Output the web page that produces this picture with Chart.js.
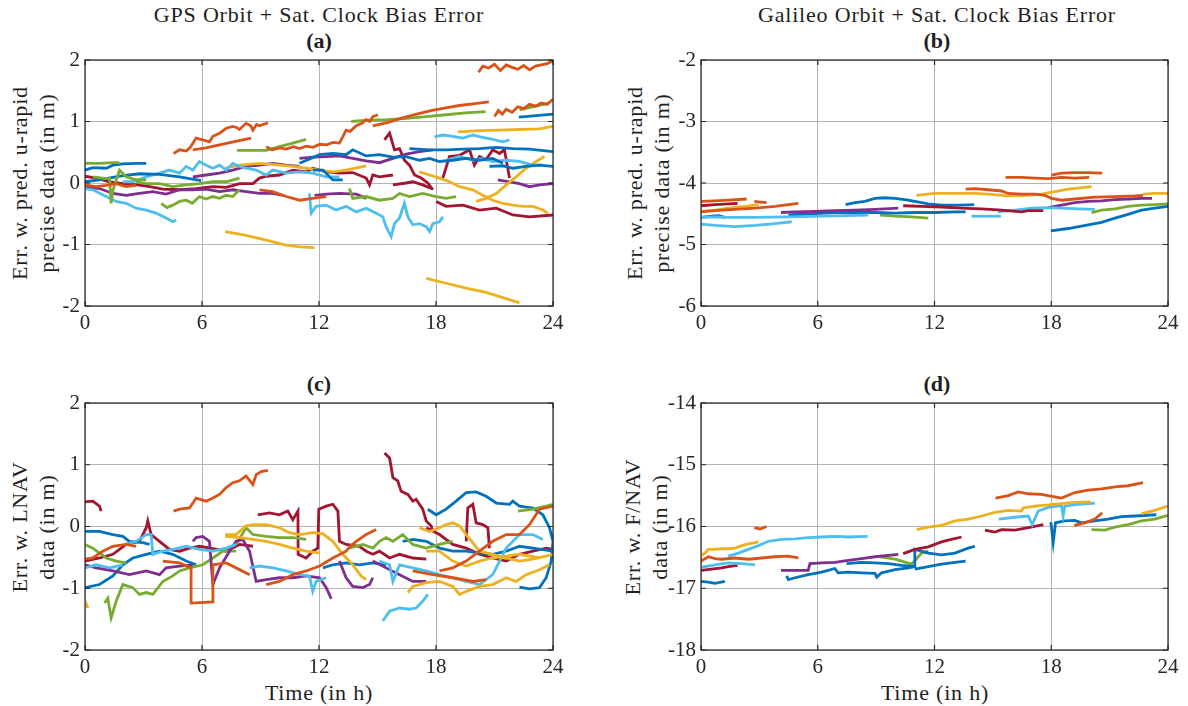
<!DOCTYPE html>
<html>
<head>
<meta charset="utf-8">
<script src="https://cdn.jsdelivr.net/npm/chart.js@4.4.1/dist/chart.umd.min.js"></script>
<style>
    body { margin: 0; width: 1188px; height: 706px; background: #fff; position: relative; overflow: hidden; font-family: "Liberation Serif", serif; color: #1f1f1f; }
    canvas { position: absolute; }
    .t { position: absolute; font-size: 22px; line-height: 22px; letter-spacing: 0.8px; text-align: center; white-space: nowrap; }
    .b { font-weight: bold; letter-spacing: 0; }
    .yl { position: absolute; width: 246px; font-size: 22px; line-height: 27px; letter-spacing: 0.8px; text-align: center; white-space: nowrap; transform: rotate(-90deg); }
</style>
</head>
<body>
<div class="t" style="left:19px;top:4px;width:600px">GPS Orbit + Sat. Clock Bias Error</div>
<div class="t" style="left:687px;top:4px;width:500px">Galileo Orbit + Sat. Clock Bias Error</div>
<div class="t b" style="left:269px;top:30px;width:100px">(a)</div>
<div class="t b" style="left:887px;top:30px;width:100px">(b)</div>
<div class="t b" style="left:269px;top:373px;width:100px">(c)</div>
<div class="t b" style="left:887px;top:373px;width:100px">(d)</div>
<div class="t" style="left:219px;top:682px;width:200px">Time (in h)</div>
<div class="t" style="left:835px;top:682px;width:200px">Time (in h)</div>
<div class="yl" style="left:-90px;top:156px">Err. w. pred. u-rapid<br>precise data (in m)</div>
<div class="yl" style="left:525px;top:156px">Err. w. pred. u-rapid<br>precise data (in m)</div>
<div class="yl" style="left:-90px;top:500px">Err. w. LNAV<br>data (in m)</div>
<div class="yl" style="left:523px;top:500px">Err. w. F/NAV<br>data (in m)</div>

<canvas id="chartA" width="594" height="353" style="left:0;top:0"></canvas>
<canvas id="chartB" width="594" height="353" style="left:594px;top:0"></canvas>
<canvas id="chartC" width="594" height="353" style="left:0;top:353px"></canvas>
<canvas id="chartD" width="594" height="353" style="left:594px;top:353px"></canvas>

<script>
// x ticks (hours) shared by all four panels
const hourTicks = [0, 6, 12, 18, 24];
const gpsErrTicks = [-2, -1, 0, 1, 2];
const galRapidTicks = [-6, -5, -4, -3, -2];
const galNavTicks = [-18, -17, -16, -15, -14];

// each satellite pass is a list of [hour, error in m]
// (a) GPS, predicted ultra-rapid vs precise
const rapidGpsOrange = [
    [[20.18,1.80],[20.4,1.90],[20.7,1.87],[21.0,1.93],[21.3,1.83],[21.6,1.92],[21.9,1.88],[22.2,1.85],[22.5,1.91],[22.8,1.84],[23.1,1.90],[23.4,1.92],[23.7,1.94],[24,1.99]],
    [[14.76,0.93],[15.5,0.98],[16.2,1.05],[17.0,1.12],[17.8,1.18],[18.5,1.22],[19.2,1.26],[20.0,1.29],[20.71,1.32]],
    [[21.0,1.08],[21.2,1.18],[21.4,1.12],[21.6,1.20],[21.9,1.15],[22.2,1.24],[22.5,1.21],[22.8,1.28],[23.1,1.25],[23.4,1.30],[23.7,1.28],[24,1.36]],
    [[9.29,0.59],[9.6,0.54],[10.0,0.57],[10.3,0.55],[10.7,0.59],[11.0,0.56],[11.34,0.60],[11.7,0.58],[12.03,0.63],[12.4,0.62],[12.71,0.66],[13.05,0.65],[13.22,0.75],[13.39,0.86],[13.6,0.84],[13.91,0.93],[14.2,0.97],[14.42,1.03],[14.6,1.00],[14.76,1.08],[15.02,1.11]],
    [[4.54,0.48],[4.85,0.54],[5.19,0.52],[5.4,0.58],[5.7,0.73],[6.04,0.70],[6.38,0.67],[6.56,0.76],[6.9,0.81],[7.24,0.89],[7.58,0.92],[7.8,0.90],[7.92,0.87],[8.26,0.97],[8.5,0.93],[8.61,0.86],[8.8,0.95],[8.95,0.93],[9.38,0.98]],
    [[5.53,0.54],[6.2,0.57],[6.9,0.62],[7.6,0.67],[8.52,0.73]],
    [[8.95,-0.11],[9.63,-0.14],[10.32,-0.22],[11.0,-0.28],[11.68,-0.25],[12.37,-0.22]],
    [[0,-0.03],[0.57,-0.06],[1.09,-0.04],[1.6,-0.01],[2.11,-0.06],[2.62,-0.04]]
];
const rapidGpsGreen = [
    [[22.28,1.19],[23.0,1.24],[23.82,1.30]],
    [[13.65,1.00],[14.5,1.02],[15.5,1.03],[16.5,1.05],[17.5,1.08],[18.5,1.11],[19.5,1.14],[20.54,1.16]],
    [[7.79,0.53],[8.6,0.53],[9.29,0.53],[9.97,0.59],[10.66,0.65],[11.34,0.71]],
    [[0,0.32],[0.74,0.32],[1.43,0.33],[1.77,0.33]],
    [[0.4,0.10],[1.09,0.07],[1.26,0.08],[1.34,-0.33],[1.43,-0.12],[1.77,0.21],[2.11,0.10],[2.62,0.05],[3.14,0.05]],
    [[3.91,-0.33],[4.2,-0.40],[4.5,-0.36],[4.85,-0.30],[5.19,-0.28],[5.5,-0.33],[5.87,-0.22],[6.2,-0.26],[6.56,-0.22],[6.9,-0.25],[7.24,-0.20],[7.58,-0.22],[7.92,-0.11]],
    [[13.56,-0.09],[13.73,-0.25],[14.42,-0.22],[15.10,-0.28],[15.79,-0.25],[16.13,-0.17],[16.64,-0.22],[17.32,-0.17],[18.01,-0.22],[18.52,-0.25],[19.03,-0.22]],
    [[2.62,0.02],[3.14,-0.01],[3.82,-0.01],[4.50,-0.06],[5.19,-0.03],[5.87,-0.01],[6.56,0.02],[7.24,0.02],[7.92,0.08]]
];
const rapidGpsBlue = [
    [[0,0.21],[0.40,0.25],[1.09,0.24],[1.43,0.29],[1.94,0.31],[2.62,0.32],[3.14,0.32]],
    [[0,0.02],[0.74,0.05],[1.77,0.11],[2.79,0.15],[3.82,0.14],[4.85,0.10],[5.96,0.04]],
    [[11.0,0.32],[12.03,0.46],[12.71,0.48],[13.39,0.46],[13.73,0.54],[14.42,0.44],[15.10,0.46],[15.79,0.42],[16.47,0.43],[17.15,0.37],[17.67,0.40],[18.18,0.35],[18.86,0.37],[19.55,0.40],[20.23,0.37],[20.91,0.40],[21.43,0.32]],
    [[16.64,0.56],[17.67,0.54],[18.52,0.54],[19.38,0.55],[20.23,0.56],[21.09,0.58],[21.94,0.56],[22.79,0.55],[24,0.51]],
    [[20.74,0.27],[21.43,0.28],[21.94,0.24],[22.62,0.27],[23.31,0.29],[24,0.27]],
    [[11.68,0.21],[12.2,0.21],[12.71,0.05],[13.22,0.05]],
    [[22.25,1.07],[23.0,1.09],[24,1.12]]
];
const rapidGpsCyan = [
    [[0,-0.09],[0.4,-0.11],[1.09,-0.22],[1.6,-0.30],[2.11,-0.33],[2.62,-0.41],[3.14,-0.44],[3.65,-0.49],[4.16,-0.57],[4.5,-0.63],[4.68,-0.60]],
    [[1.94,0.02],[2.45,0.02],[3.14,0.10],[3.82,0.16],[4.33,0.21],[4.85,0.16],[5.19,0.27],[5.53,0.21],[5.87,0.35],[6.21,0.29],[6.56,0.24],[6.90,0.29],[7.24,0.21],[7.58,0.32],[7.92,0.27],[8.26,0.24],[8.78,0.21],[9.29,0.13],[9.63,0.21],[10.32,0.16],[11.0,0.18],[11.68,0.16],[12.37,0.10],[13.05,0.10]],
    [[11.51,-0.17],[11.6,-0.49],[11.85,-0.38],[12.37,-0.36],[12.88,-0.44],[13.39,-0.38],[13.91,-0.47],[14.42,-0.41],[14.93,-0.49],[15.27,-0.55],[15.44,-0.71],[15.70,-0.87],[15.87,-0.66],[16.13,-0.57],[16.38,-0.33],[16.56,-0.55],[16.81,-0.68],[17.15,-0.66],[17.50,-0.71],[17.67,-0.79],[17.84,-0.66],[18.18,-0.63],[18.35,-0.55]],
    [[17.92,0.75],[18.35,0.78],[18.86,0.76],[19.38,0.73],[19.89,0.78],[20.40,0.74],[20.91,0.71],[21.43,0.67],[21.77,0.70]],
    [[18.52,0.37],[19.21,0.43],[19.89,0.37],[20.40,0.40],[20.91,0.35],[21.60,0.37],[22.28,0.35],[22.97,0.29],[23.48,0.29]]
];
const rapidGpsYellow = [
    [[7.19,-0.79],[8.26,-0.85],[9.29,-0.93],[10.32,-1.01],[11.0,-1.04],[11.77,-1.05]],
    [[17.50,-1.55],[18.52,-1.63],[19.55,-1.71],[20.57,-1.78],[21.60,-1.88],[22.28,-1.95]],
    [[7.19,0.24],[7.92,0.29],[8.95,0.32],[9.97,0.29],[10.66,0.27],[11.34,0.24],[12.03,0.21],[12.71,0.18],[13.39,0.21],[14.42,0.28]],
    [[19.12,0.83],[20.23,0.85],[21.26,0.86],[22.28,0.87],[23.31,0.88],[24,0.92]],
    [[17.15,0.18],[17.67,0.13],[18.18,0.08],[18.69,0.02],[19.21,-0.06],[19.89,-0.11],[20.40,-0.20],[20.91,-0.28],[21.43,-0.33],[21.94,-0.36],[22.45,-0.38],[22.97,-0.38],[23.48,-0.44],[23.74,-0.49]],
    [[20.06,-0.30],[20.57,-0.25],[21.09,-0.17],[21.60,-0.03],[22.11,0.10],[22.62,0.24],[23.14,0.35],[23.56,0.43]]
];
const rapidGpsPurple = [
    [[11.0,0.40],[11.68,0.42],[12.37,0.43],[13.05,0.44],[13.73,0.40],[14.42,0.36],[15.10,0.33],[15.79,0.40],[16.47,0.47],[17.15,0.51],[17.84,0.54]],
    [[0,-0.06],[0.74,-0.09],[1.43,-0.17],[2.11,-0.20],[2.79,-0.17],[3.48,-0.14],[4.16,-0.18],[4.85,-0.11],[5.53,-0.11],[6.21,-0.10],[6.90,-0.14],[7.58,-0.11],[8.26,-0.14],[8.95,-0.17],[9.63,-0.17],[10.15,-0.20]],
    [[5.53,0.10],[6.21,0.13],[6.90,0.16],[7.58,0.21],[8.26,0.27],[8.95,0.29],[9.63,0.32],[10.32,0.29],[11.0,0.27]],
    [[11.77,-0.20],[12.37,-0.18],[13.05,-0.17],[13.91,-0.18],[14.42,-0.25]],
    [[21.17,0.05],[21.77,0.02],[22.28,-0.01],[22.79,-0.06],[23.31,-0.03],[24,-0.01]]
];
const rapidGpsRed = [
    [[15.36,0.70],[15.62,0.81],[15.87,0.54],[16.13,0.56],[16.38,0.37],[16.64,0.29],[16.90,0.13],[17.24,0.08],[17.58,0.0],[17.84,-0.11]],
    [[15.79,-0.03],[16.47,0.0],[16.81,0.02],[17.32,-0.03],[17.75,-0.09]],
    [[18.01,-0.30],[18.52,-0.38],[19.38,-0.36],[20.23,-0.44],[21.09,-0.41],[21.94,-0.52],[22.79,-0.55],[24,-0.52]],
    [[18.35,0.08],[18.69,0.43],[19.21,0.45],[19.72,0.54],[19.97,0.29],[20.23,0.43],[20.57,0.38],[20.91,0.54],[21.26,0.48],[21.51,0.54],[21.77,0.08]],
    [[0,0.11],[0.57,0.08],[1.26,0.02],[1.94,-0.01],[2.71,-0.03],[3.31,-0.06],[3.99,-0.10],[4.85,-0.11],[5.70,-0.09],[6.56,-0.06],[7.24,-0.07],[7.92,-0.01],[8.61,-0.01],[8.95,0.08],[9.29,0.11],[9.97,0.13],[10.66,0.21],[11.34,0.18],[11.68,0.24],[12.37,0.18],[13.05,0.16],[13.73,0.17],[14.42,0.08],[14.59,-0.03],[14.76,0.13],[15.10,0.10],[15.79,0.13]]
];

// (b) Galileo, predicted ultra-rapid vs precise
const rapidGalOrange = [
    [[0,-4.30],[0.72,-4.29],[1.40,-4.28],[2.35,-4.26]],
    [[2.74,-4.30],[3.03,-4.31],[3.37,-4.32]],
    [[0,-4.47],[0.72,-4.45],[1.74,-4.43],[2.78,-4.41],[3.80,-4.38],[5.0,-4.33]],
    [[13.60,-4.10],[14.08,-4.09],[14.76,-4.11],[15.45,-4.13],[15.79,-4.17],[16.47,-4.18],[17.16,-4.18],[17.67,-4.20],[18.01,-4.25],[18.53,-4.28],[19.21,-4.26],[20.24,-4.23],[21.27,-4.22],[22.29,-4.21],[22.72,-4.20]],
    [[15.65,-3.91],[16.47,-3.91],[17.16,-3.92],[17.84,-3.93],[18.53,-3.91],[19.21,-3.92],[19.95,-3.91]],
    [[18.01,-3.87],[18.53,-3.84],[19.21,-3.83],[19.90,-3.83],[20.62,-3.84]]
];
const rapidGalRed = [
    [[0,-4.37],[0.72,-4.35],[1.88,-4.33]],
    [[10.39,-4.37],[11.34,-4.38],[12.36,-4.39],[13.39,-4.41],[14.42,-4.42],[15.45,-4.44],[16.47,-4.47],[16.82,-4.45],[17.59,-4.45]]
];
const rapidGalYellow = [
    [[0,-4.46],[0.72,-4.44],[1.40,-4.41],[2.26,-4.38],[2.95,-4.35]],
    [[11.08,-4.20],[12.02,-4.17],[13.05,-4.17],[14.08,-4.17],[14.76,-4.18],[15.79,-4.21],[16.82,-4.20],[17.50,-4.18],[18.18,-4.14],[18.87,-4.10],[20.07,-4.06]],
    [[22.72,-4.18],[23.32,-4.17],[24,-4.17]]
];
const rapidGalCyan = [
    [[0,-4.56],[0.72,-4.55],[1.23,-4.56],[2.78,-4.56],[4.49,-4.55],[6.20,-4.54],[7.40,-4.53],[8.60,-4.52]],
    [[0,-4.67],[0.72,-4.69],[1.74,-4.71],[2.78,-4.69],[3.80,-4.66],[4.66,-4.63]],
    [[13.90,-4.54],[14.59,-4.54],[15.41,-4.54]],
    [[15.27,-4.47],[16.13,-4.44],[16.99,-4.41],[17.84,-4.40],[18.53,-4.41],[19.38,-4.42],[20.24,-4.43]]
];
const rapidGalPurple = [
    [[4.11,-4.48],[4.83,-4.47],[5.86,-4.46],[6.88,-4.45],[7.91,-4.44],[8.94,-4.43],[10.14,-4.41]],
    [[17.84,-4.40],[18.53,-4.36],[19.21,-4.32],[19.90,-4.30],[20.58,-4.29],[21.27,-4.27],[21.95,-4.26],[22.64,-4.25],[23.18,-4.25]]
];
const rapidGalBlue = [
    [[0,-4.56],[0.55,-4.54],[0.9,-4.53],[1.23,-4.56]],
    [[4.49,-4.52],[5.68,-4.50],[6.88,-4.48],[7.91,-4.48],[8.94,-4.48],[9.97,-4.49],[10.99,-4.48],[12.02,-4.48],[13.05,-4.47],[13.60,-4.47]],
    [[7.43,-4.35],[7.91,-4.32],[8.42,-4.30],[8.94,-4.25],[9.45,-4.24],[9.97,-4.25],[10.65,-4.28],[10.99,-4.30],[11.68,-4.34],[12.36,-4.36],[13.39,-4.36],[14.04,-4.35]],
    [[17.98,-4.78],[18.87,-4.74],[19.90,-4.68],[20.58,-4.64],[21.27,-4.57],[21.95,-4.51],[22.64,-4.44],[23.32,-4.41],[24,-4.38]]
];
const rapidGalGreen = [
    [[9.20,-4.52],[9.97,-4.54],[10.82,-4.55],[11.68,-4.57]],
    [[20.07,-4.48],[20.58,-4.44],[21.27,-4.42],[21.95,-4.38],[22.64,-4.36],[23.32,-4.35],[24,-4.34]]
];

// (c) GPS, broadcast LNAV
const lnavRed = [
    [[0,0.40],[0.4,0.41],[0.74,0.33],[0.83,0.25]],
    [[15.36,1.19],[15.62,1.11],[15.79,0.79],[16.04,0.74],[16.21,0.57],[16.56,0.52],[16.81,0.41],[16.98,0.44],[17.32,0.28],[17.50,0.09],[17.75,0.01],[17.84,-0.08]],
    [[8.86,0.19],[9.46,0.22],[9.97,0.19],[10.40,0.25],[10.66,0.11],[10.92,0.25],[10.93,-0.45],[11.34,-0.51],[11.68,-0.40],[11.94,-0.35],[11.99,0.28],[12.37,0.33],[12.71,0.36],[12.97,0.25],[13.05,-0.24],[13.39,-0.29],[14.07,-0.32],[14.42,-0.40],[14.76,-0.45],[15.10,-0.40],[15.62,-0.51],[16.13,-0.45],[16.81,-0.51],[17.50,-0.53]],
    [[19.55,-0.24],[19.63,0.30],[19.89,0.36],[20.06,0.06],[20.40,0.03],[20.66,-0.02],[20.74,-0.35]],
    [[0,-0.56],[0.74,-0.51],[1.43,-0.45],[2.11,-0.29],[2.79,-0.24],[3.14,-0.02],[3.22,0.09],[3.39,-0.13],[3.82,-0.24],[4.33,-0.37],[4.85,-0.40],[5.36,-0.35],[5.87,-0.32],[6.56,-0.36],[7.24,-0.40],[7.92,-0.29],[8.61,-0.32]],
    [[17.50,-0.02],[18.18,-0.13],[18.86,-0.29],[19.55,-0.35],[20.23,-0.45],[20.91,-0.51],[21.60,-0.56],[22.28,-0.45],[22.97,-0.40],[23.65,-0.35],[24,-0.37]]
];
const lnavOrange = [
    [[4.54,0.25],[4.85,0.28],[5.36,0.30],[5.70,0.46],[6.21,0.41],[6.56,0.46],[6.90,0.52],[7.24,0.63],[7.58,0.71],[7.92,0.74],[8.26,0.82],[8.61,0.68],[8.78,0.84],[9.04,0.89],[9.38,0.91]],
    [[0,-0.53],[0.40,-0.51],[0.91,-0.40],[1.43,-0.32],[2.11,-0.29],[2.62,-0.32]],
    [[3.99,-0.56],[4.85,-0.59],[5.44,-0.67],[5.44,-1.24],[6.56,-1.22],[6.56,-0.62],[7.24,-0.59],[7.75,-0.67],[8.44,-0.78]],
    [[9.29,-0.94],[9.97,-0.89],[10.66,-0.78],[11.34,-0.72],[12.03,-0.64],[12.71,-0.51],[13.39,-0.40],[13.60,-0.32],[13.91,-0.24],[14.42,-0.13],[14.93,-0.05]],
    [[18.18,-0.72],[18.86,-0.67],[19.55,-0.56],[20.23,-0.40],[20.91,-0.24],[21.60,-0.13],[22.28,-0.13],[22.79,0.03],[23.31,0.28],[24,0.33]],
    [[16.81,-0.72],[17.84,-0.78],[18.86,-0.83],[19.89,-0.89],[20.57,-0.86]]
];
const lnavBlue = [
    [[17.58,0.28],[18.01,0.19],[18.52,0.28],[19.03,0.41],[19.55,0.55],[20.06,0.56],[20.57,0.49],[21.09,0.38],[21.77,0.36],[21.94,0.41],[22.28,0.33],[22.97,0.30],[23.48,0.19],[23.82,-0.02],[24,-0.24],[23.91,-0.56],[23.65,-0.83],[23.31,-0.99],[22.79,-1.01],[22.28,-0.98]],
    [[0,-0.08],[0.74,-0.08],[1.43,-0.13],[1.94,-0.16],[2.28,-0.24],[2.96,-0.26],[3.31,-0.29]],
    [[0,-0.99],[0.74,-0.94],[1.43,-0.80],[1.94,-0.62],[2.45,-0.51],[3.14,-0.45],[3.82,-0.40],[4.50,-0.45],[5.19,-0.56],[5.70,-0.62]],
    [[16.29,-0.24],[16.81,-0.21],[17.50,-0.24],[18.18,-0.35],[18.86,-0.40],[19.55,-0.40],[20.23,-0.43],[20.91,-0.45],[21.60,-0.40],[22.28,-0.32],[22.97,-0.35],[24,-0.40]],
    [[12.2,-0.67],[12.71,-0.62],[13.39,-0.59],[14.07,-0.62],[14.76,-0.59],[15.44,-0.62]]
];
const lnavYellow = [
    [[7.19,-0.13],[7.75,-0.13],[8.26,0.01],[8.61,0.03],[9.29,0.03],[9.97,-0.02],[10.49,-0.10],[11.0,-0.13],[11.68,-0.10],[12.20,-0.12],[12.71,-0.24],[13.22,-0.45],[13.73,-0.62],[14.16,-0.80],[14.42,-0.86]],
    [[7.19,-0.16],[7.92,-0.18],[8.61,-0.21],[9.29,-0.24],[9.97,-0.29],[10.66,-0.35],[11.34,-0.40],[12.03,-0.43]],
    [[17.15,-0.02],[17.67,-0.08],[18.18,-0.02],[18.52,0.03],[18.86,0.06],[19.21,0.01],[19.55,-0.13],[20.23,-0.40],[20.91,-0.45],[21.60,-0.51],[22.28,-0.56],[22.97,-0.53],[23.65,-0.48],[24,-0.45]],
    [[16.56,-1.07],[16.81,-0.97],[17.50,-0.91],[18.18,-0.89],[18.86,-0.97],[19.21,-1.10],[19.55,-1.05],[20.23,-0.97],[20.91,-0.94],[21.60,-0.83],[22.11,-0.89],[22.62,-0.78],[23.31,-0.70],[23.82,-0.62]],
    [[0,-1.21],[0.15,-1.32]],
    [[17.50,-0.40],[18.18,-0.40],[18.86,-0.56],[19.55,-0.64],[20.23,-0.56],[20.91,-0.51],[21.60,-0.48],[22.28,-0.45],[23.31,-0.51]]
];
const lnavCyan = [
    [[15.27,-1.53],[15.62,-1.37],[16.13,-1.32],[16.64,-1.34],[16.98,-1.32],[17.32,-1.21],[17.58,-1.10]],
    [[2.11,-0.29],[2.62,-0.24],[3.14,-0.13],[3.39,-0.13],[3.48,-0.45],[3.99,-0.40],[4.50,-0.37],[5.19,-0.32],[5.87,-0.37],[6.56,-0.40],[7.24,-0.35],[7.75,-0.29]],
    [[8.44,-0.67],[8.95,-0.64],[9.63,-0.67],[10.32,-0.72],[11.0,-0.78],[11.51,-0.80],[11.68,-1.05],[11.85,-0.89],[12.37,-0.83]],
    [[15.10,-0.56],[15.62,-0.62],[15.79,-0.89],[16.13,-0.62],[16.81,-0.67],[17.50,-0.72],[18.18,-0.78],[18.86,-0.83],[19.55,-0.89],[20.23,-0.94],[20.91,-0.78],[21.60,-0.35],[22.28,-0.13],[22.97,-0.13],[23.48,-0.21]],
    [[0,-0.67],[0.57,-0.62],[1.26,-0.67],[1.94,-0.62]]
];
const lnavPurple = [
    [[5.53,-0.24],[5.70,-0.18],[6.04,-0.16],[6.38,-0.24],[6.56,-0.94],[6.90,-0.67],[7.41,-0.40],[7.75,-0.24],[8.09,-0.21],[8.44,-0.40],[8.70,-0.78],[8.78,-0.89],[9.29,-0.86],[9.97,-0.83],[10.66,-0.83],[11.34,-0.80],[12.03,-0.83],[12.37,-0.99],[12.63,-1.17]],
    [[13.05,-0.56],[13.39,-0.83],[13.73,-0.97],[14.25,-0.99],[14.59,-0.94],[14.76,-0.83]],
    [[0,-0.62],[0.57,-0.67],[1.43,-0.72],[2.28,-0.78],[3.14,-0.72],[3.82,-0.78],[4.16,-0.67],[4.85,-0.64],[5.53,-0.62]],
    [[14.76,-0.56],[15.44,-0.67],[16.13,-0.78],[16.81,-0.89],[17.50,-0.89]]
];
const lnavGreen = [
    [[1.0,-1.24],[1.17,-1.16],[1.34,-1.48],[1.60,-1.21],[1.94,-0.94],[2.45,-0.99],[2.79,-1.10],[3.14,-1.07],[3.48,-1.10],[3.99,-0.89],[4.50,-0.80],[4.85,-0.72],[5.36,-0.67],[6.04,-0.62],[6.56,-0.51],[7.07,-0.40],[7.75,-0.40]],
    [[0,-0.29],[0.40,-0.35],[1.09,-0.51],[1.60,-0.56],[2.11,-0.59]],
    [[7.75,-0.29],[8.26,-0.02],[8.61,-0.13],[9.29,-0.16],[9.97,-0.18],[10.66,-0.18],[11.34,-0.21]],
    [[13.56,-0.35],[14.25,-0.29],[14.76,-0.35],[15.10,-0.24],[15.44,-0.18],[15.79,-0.24],[16.29,-0.13],[16.81,-0.29],[17.50,-0.35],[18.18,-0.29],[18.86,-0.24]],
    [[22.20,0.25],[22.97,0.28],[23.65,0.33],[24,0.36]]
];

// (d) Galileo, broadcast F/NAV
const fnavOrange = [
    [[2.74,-16.02],[3.03,-16.04],[3.37,-16.00]],
    [[0,-16.56],[0.38,-16.49],[0.72,-16.52],[1.06,-16.53],[1.74,-16.51],[2.43,-16.53],[3.12,-16.51],[3.80,-16.49],[4.49,-16.48],[5.0,-16.51]],
    [[15.14,-15.54],[15.79,-15.50],[16.30,-15.44],[16.82,-15.47],[17.50,-15.48],[18.18,-15.52],[18.53,-15.54],[19.21,-15.45],[19.90,-15.41],[20.58,-15.39],[21.27,-15.36],[21.95,-15.34],[22.72,-15.29]],
    [[19.18,-15.98],[19.73,-15.94],[20.24,-15.88],[20.62,-15.78]]
];
const fnavYellow = [
    [[0,-16.47],[0.21,-16.43],[0.38,-16.37],[0.72,-16.37],[1.06,-16.36],[1.40,-16.36],[1.74,-16.35],[2.09,-16.31],[2.43,-16.28],[2.95,-16.25]],
    [[11.08,-16.05],[11.68,-16.01],[12.36,-15.98],[13.05,-15.91],[13.73,-15.88],[14.42,-15.83],[15.10,-15.77],[15.79,-15.74],[16.47,-15.75],[16.56,-15.70],[17.16,-15.67],[17.84,-15.65],[18.53,-15.63],[19.21,-15.61],[20.03,-15.60]],
    [[22.64,-15.79],[23.32,-15.74],[24,-15.67]]
];
const fnavCyan = [
    [[1.40,-16.48],[1.92,-16.43],[2.43,-16.37],[2.95,-16.31],[3.46,-16.24],[4.14,-16.21],[4.83,-16.20],[5.51,-16.18],[6.20,-16.17],[6.88,-16.16],[7.57,-16.17],[8.56,-16.16]],
    [[0,-16.66],[0.72,-16.62],[1.40,-16.59],[2.09,-16.60],[2.78,-16.62]],
    [[15.31,-15.88],[16.13,-15.85],[16.82,-15.83],[17.02,-15.97],[17.33,-15.75],[17.84,-15.69],[18.53,-15.66],[18.61,-15.83],[18.70,-15.67],[19.38,-15.64],[20.24,-15.62]]
];
const fnavRed = [
    [[0,-16.71],[0.55,-16.69],[1.06,-16.67],[1.40,-16.65],[1.88,-16.63]],
    [[10.39,-16.44],[10.99,-16.37],[11.68,-16.33],[12.36,-16.25],[12.71,-16.22],[13.39,-16.17]],
    [[14.59,-16.06],[15.10,-16.09],[15.45,-16.05],[16.13,-16.06],[16.82,-16.02],[17.59,-15.97]]
];
const fnavPurple = [
    [[4.11,-16.71],[4.83,-16.71],[5.51,-16.71],[5.60,-16.60],[6.20,-16.59],[6.88,-16.58],[7.57,-16.55],[8.25,-16.52],[8.94,-16.49],[10.14,-16.45]]
];
const fnavBlue = [
    [[0,-16.89],[0.38,-16.90],[0.72,-16.92],[1.23,-16.89]],
    [[4.40,-16.80],[4.49,-16.86],[4.83,-16.83],[5.51,-16.78],[6.20,-16.74],[6.88,-16.68],[7.05,-16.75],[7.57,-16.74],[8.25,-16.75],[8.94,-16.76],[9.03,-16.82],[9.28,-16.75],[9.97,-16.70],[10.65,-16.67],[10.99,-16.65]],
    [[7.48,-16.60],[8.25,-16.58],[8.94,-16.59],[9.62,-16.60],[10.31,-16.63],[10.99,-16.65],[10.99,-16.37],[11.68,-16.43],[12.36,-16.46],[13.05,-16.43],[13.73,-16.35],[14.08,-16.32]],
    [[10.99,-16.69],[11.68,-16.65],[12.36,-16.61],[13.05,-16.58],[13.60,-16.56]],
    [[17.98,-15.93],[18.10,-16.26],[18.22,-15.94],[18.70,-15.91],[19.21,-15.90],[19.55,-15.94],[20.24,-15.91],[20.92,-15.88],[21.61,-15.84],[22.29,-15.83],[23.40,-15.81]]
];
const fnavGreen = [
    [[9.20,-16.49],[9.97,-16.53],[10.82,-16.61],[11.34,-16.43],[11.68,-16.40]],
    [[20.07,-16.05],[20.75,-16.06],[21.27,-16.01],[21.95,-15.97],[22.64,-15.91],[23.32,-15.88],[24,-15.82]]
];

const colours = {
    blue: '#0072BD', orange: '#D95319', yellow: '#EDB120', purple: '#7E2F8E',
    green: '#77AC30', cyan: '#4DBEEE', red: '#A2142F'
};
const FONT = '"Liberation Serif", serif';
const INK = '#262626';

function datasetsFrom(groups) {
    const sets = [];
    groups.forEach(([passes, colour]) => {
        passes.forEach(pass => {
            sets.push({
                data: pass.map(([t, e]) => ({ x: t, y: e })),
                borderColor: colours[colour],
                borderWidth: 2.8,
                pointRadius: 0,
                tension: 0,
                fill: false
            });
        });
    });
    return sets;
}

// MATLAB style box with inward tick marks
const boxAndTicks = {
    id: 'boxAndTicks',
    afterDraw(chart) {
        const { ctx, chartArea: { left, right, top, bottom }, scales: { x, y } } = chart;
        ctx.save();
        ctx.strokeStyle = INK;
        ctx.lineWidth = 1.2;
        ctx.strokeRect(left, top, right - left, bottom - top);
        ctx.beginPath();
        x.ticks.forEach(tk => {
            const px = x.getPixelForValue(tk.value);
            ctx.moveTo(px, bottom); ctx.lineTo(px, bottom - 5);
            ctx.moveTo(px, top); ctx.lineTo(px, top + 5);
        });
        y.ticks.forEach(tk => {
            const py = y.getPixelForValue(tk.value);
            ctx.moveTo(left, py); ctx.lineTo(left + 5, py);
            ctx.moveTo(right, py); ctx.lineTo(right - 5, py);
        });
        ctx.stroke();
        ctx.restore();
    }
};

function makePanel(id, groups, yTicks, pad, yWidth, xHeight) {
    new Chart(document.getElementById(id), {
        type: 'line',
        data: { datasets: datasetsFrom(groups) },
        options: {
            responsive: false,
            animation: false,
            devicePixelRatio: 1,
            layout: { padding: pad },
            plugins: { legend: { display: false }, tooltip: { enabled: false } },
            scales: {
                x: {
                    type: 'linear',
                    min: hourTicks[0],
                    max: hourTicks[hourTicks.length - 1],
                    afterBuildTicks: s => { s.ticks = hourTicks.map(v => ({ value: v })); },
                    afterFit: s => { s.height = xHeight; },
                    grid: { color: '#b4b4b4', lineWidth: 1, drawTicks: false },
                    border: { display: false },
                    ticks: { padding: 5, color: INK, font: { family: FONT, size: 21 }, maxRotation: 0 }
                },
                y: {
                    min: yTicks[0],
                    max: yTicks[yTicks.length - 1],
                    afterBuildTicks: s => { s.ticks = yTicks.map(v => ({ value: v })); },
                    afterFit: s => { s.width = yWidth; },
                    grid: { color: '#b4b4b4', lineWidth: 1, drawTicks: false },
                    border: { display: false },
                    ticks: { padding: 5, color: INK, font: { family: FONT, size: 21 }, callback: v => String(v) }
                }
            }
        },
        plugins: [boxAndTicks]
    });
}

makePanel('chartA', [
    [rapidGpsOrange, 'orange'], [rapidGpsGreen, 'green'], [rapidGpsBlue, 'blue'], [rapidGpsCyan, 'cyan'],
    [rapidGpsYellow, 'yellow'], [rapidGpsPurple, 'purple'], [rapidGpsRed, 'red']
], gpsErrTicks, { left: 0, top: 60, right: 41, bottom: 0 }, 85, 47);

makePanel('chartB', [
    [rapidGalOrange, 'orange'], [rapidGalRed, 'red'], [rapidGalYellow, 'yellow'], [rapidGalCyan, 'cyan'],
    [rapidGalPurple, 'purple'], [rapidGalBlue, 'blue'], [rapidGalGreen, 'green']
], galRapidTicks, { left: 0, top: 60, right: 20, bottom: 0 }, 107, 47);

makePanel('chartC', [
    [lnavOrange, 'orange'], [lnavYellow, 'yellow'], [lnavCyan, 'cyan'], [lnavPurple, 'purple'],
    [lnavGreen, 'green'], [lnavBlue, 'blue'], [lnavRed, 'red']
], gpsErrTicks, { left: 0, top: 50, right: 41, bottom: 0 }, 85, 56);

makePanel('chartD', [
    [fnavOrange, 'orange'], [fnavYellow, 'yellow'], [fnavCyan, 'cyan'], [fnavRed, 'red'],
    [fnavPurple, 'purple'], [fnavBlue, 'blue'], [fnavGreen, 'green']
], galNavTicks, { left: 0, top: 50, right: 20, bottom: 0 }, 107, 56);
</script>
</body>
</html>
